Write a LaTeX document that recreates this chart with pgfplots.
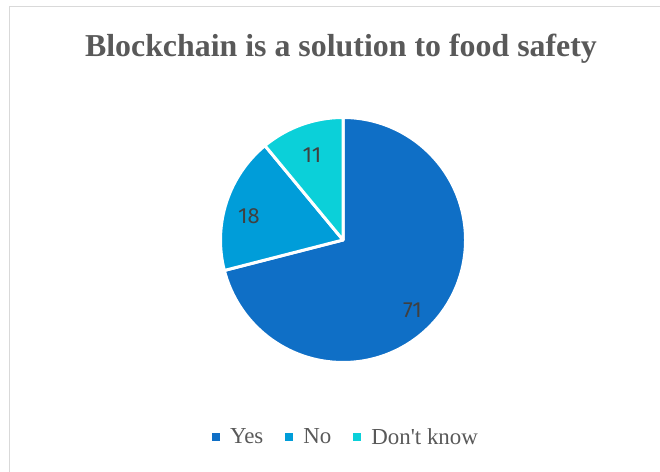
\documentclass[border=0pt]{standalone}
\usepackage{pgfplots}
\pgfplotsset{compat=1.18}
\usepackage{pgfplotstable}
\usepackage{fontspec}
\setmainfont{Liberation Serif}
\newfontfamily\lblfont{Fira Sans}
\definecolor{cYes}{HTML}{0F6FC6}
\definecolor{cNo}{HTML}{009DD9}
\definecolor{cDK}{HTML}{0BD0D9}
\definecolor{txt}{HTML}{595959}
\definecolor{lbl}{HTML}{404040}
\definecolor{framec}{HTML}{D9D9D9}
\newcommand\lblstyle{\lblfont\fontsize{22}{26}\selectfont}

\pgfplotstableread{
name value col lx ly
Yes 71 cYes 412.5 162
No 18 cNo 249 256
DK 11 cDK 312 316.5
}\piedata

\begin{document}
\begin{tikzpicture}[x=1bp,y=1bp]
\path[use as bounding box] (0,0) rectangle (660,472);
\draw[framec, line width=1.5bp] (9.5,0) -- (9.5,465.5) -- (660,465.5);
\begin{axis}[at={(0,0)}, anchor=south west, scale only axis,
  width=660bp, height=472bp, xmin=0, xmax=660, ymin=0, ymax=472,
  hide axis, clip=false,
  legend style={at={(axis cs:346,35)}, anchor=center, draw=none, fill=none,
    font=\fontsize{23}{26}\selectfont, text=txt, legend columns=-1,
    /tikz/every even column/.append style={column sep=20bp}},
  legend image code/.code={\path[draw=none, fill=none] (0bp,-4bp) rectangle (16bp,4bp); \fill[#1, draw=none] (0bp,-4bp) rectangle (8bp,4bp);},
]
\addlegendimage{cYes}\addlegendentry{Yes}
\addlegendimage{cNo}\addlegendentry{No}
\addlegendimage{cDK}\addlegendentry{Don\textquotesingle t know}
\pgfmathsetmacro\pcum{0}
\pgfplotsforeachungrouped \i in {0,1,2}{
  \pgfplotstablegetelem{\i}{value}\of\piedata \let\pval\pgfplotsretval
  \pgfplotstablegetelem{\i}{col}\of\piedata \let\pcol\pgfplotsretval
  \pgfmathsetmacro\pa{90-3.6*\pcum}
  \pgfmathsetmacro\pb{90-3.6*(\pcum+\pval)}
  \edef\temp{\noexpand\filldraw[fill=\pcol, draw=white, line width=3bp, line join=round]
    (axis cs:343,232) -- ++(\pa:122.5bp) arc[start angle=\pa, end angle=\pb, radius=122.5bp] -- cycle;}
  \temp
  \pgfmathsetmacro\pcum{\pcum+\pval}
}
\pgfplotsforeachungrouped \i in {0,1,2}{
  \pgfplotstablegetelem{\i}{value}\of\piedata \let\pval\pgfplotsretval
  \pgfplotstablegetelem{\i}{lx}\of\piedata \let\plx\pgfplotsretval
  \pgfplotstablegetelem{\i}{ly}\of\piedata \let\ply\pgfplotsretval
  \edef\temp{\noexpand\node[font=\noexpand\lblstyle, text=lbl] at (axis cs:\plx,\ply) {\pval};}
  \temp
}
\node[font=\bfseries\fontsize{32}{38}\selectfont, text=txt, anchor=base] at (axis cs:341,415) {Blockchain is a solution to food safety};
\end{axis}
\end{tikzpicture}
\end{document}
